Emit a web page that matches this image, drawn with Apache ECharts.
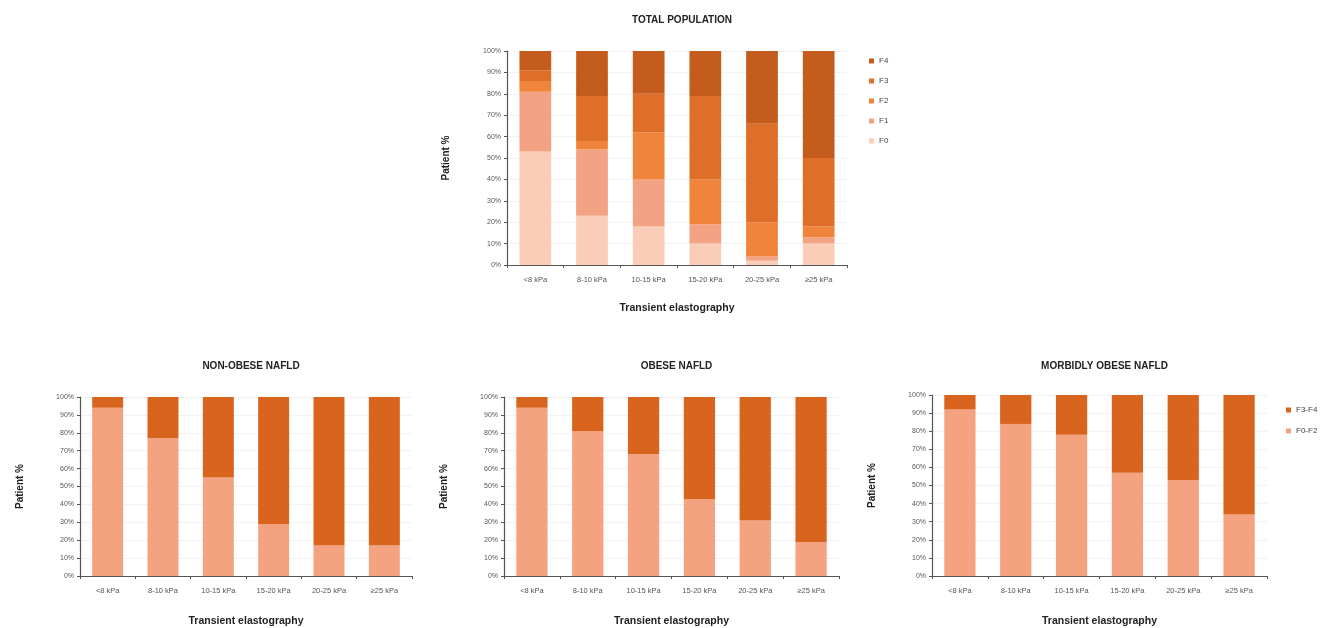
<!DOCTYPE html>
<html>
<head>
<meta charset="utf-8">
<script src="https://cdn.jsdelivr.net/npm/echarts@6/dist/echarts.min.js"></script>
<style>html,body{margin:0;padding:0;background:#fff;}#c{width:1330px;height:628px;}</style>
</head>
<body>
<div id="c"></div>
<script>
// ---- data ----
const categories = ['<8 kPa', '8-10 kPa', '10-15 kPa', '15-20 kPa', '20-25 kPa', '\u226525 kPa'];
const yTicks = [0, 10, 20, 30, 40, 50, 60, 70, 80, 90, 100];

// Total population: fibrosis stage shares (%)
const totalF0 = [53, 23, 18, 10, 2, 10];
const totalF1 = [28, 31, 22, 9, 2, 3];
const totalF2 = [5, 4, 22, 21, 16, 5];
const totalF3 = [5, 21, 18, 39, 46, 32];
const totalF4 = [9, 21, 20, 21, 34, 50];

// Subgroups: F0-F2 share (%) and F3-F4 share (%)
const nonObeseF02 = [94, 77, 55, 29, 17, 17];
const nonObeseF34 = [6, 23, 45, 71, 83, 83];
const obeseF02 = [94, 81, 68, 43, 31, 19];
const obeseF34 = [6, 19, 32, 57, 69, 81];
const morbidF02 = [92, 84, 78, 57, 53, 34];
const morbidF34 = [8, 16, 22, 43, 47, 66];

const titles = ['TOTAL POPULATION', 'NON-OBESE NAFLD', 'OBESE NAFLD', 'MORBIDLY OBESE NAFLD'];

// ---- styling ----
const FONT = '"Liberation Sans", Arial, sans-serif';
const C = {F0: '#F9CDB8', F1: '#F3A284', F2: '#F0843A', F3: '#DF6E28', F4: '#C35C1C', low: '#F4A27F', high: '#D8641E'};

const grids = [
  {left: 507, width: 340, top: 51, height: 214},
  {left: 80, width: 332, top: 397, height: 182},
  {left: 504, width: 335, top: 397, height: 181},
  {left: 932, width: 335, top: 395, height: 183}
];

const xAxis = grids.map((g, i) => ({
  type: 'category', gridIndex: i, data: categories,
  name: 'Transient elastography', nameLocation: 'middle', nameGap: i === 0 ? 38 : 40,
  nameTextStyle: {fontFamily: FONT, fontSize: 10.5, fontWeight: 'bold', color: '#222'},
  axisLine: {lineStyle: {color: '#555', width: 1.2}},
  axisTick: {show: true, alignWithLabel: false, lineStyle: {color: '#555'}, length: 3},
  axisLabel: {fontFamily: FONT, fontSize: 7.5, color: '#555', margin: 11, interval: 0}
}));
const yAxis = grids.map((g, i) => ({
  type: 'value', gridIndex: i, min: 0, max: 100, interval: 10,
  name: 'Patient %', nameLocation: 'middle', nameGap: i === 0 ? 56 : 55,
  nameTextStyle: {fontFamily: FONT, fontSize: 10, fontWeight: 'bold', color: '#222'},
  axisLine: {show: true, lineStyle: {color: '#555', width: 1.2}},
  axisTick: {show: true, lineStyle: {color: '#555'}, length: 3},
  axisLabel: {fontFamily: FONT, fontSize: 7, color: '#555', margin: 6,
    formatter: v => yTicks.includes(v) ? v + '%' : ''},
  splitLine: {show: true, lineStyle: {color: '#f2f2f2'}}
}));

const barW = '56%';
function bar(name, data, idx, stack, color) {
  return {type: 'bar', name, data, xAxisIndex: idx, yAxisIndex: idx, stack, barWidth: barW,
    itemStyle: {color}, emphasis: {disabled: true}};
}

const series = [
  bar('F0', totalF0, 0, 't', C.F0),
  bar('F1', totalF1, 0, 't', C.F1),
  bar('F2', totalF2, 0, 't', C.F2),
  bar('F3', totalF3, 0, 't', C.F3),
  bar('F4', totalF4, 0, 't', C.F4),
  bar('F0-F2', nonObeseF02, 1, 'a', C.low),
  bar('F3-F4', nonObeseF34, 1, 'a', C.high),
  bar('F0-F2', obeseF02, 2, 'b', C.low),
  bar('F3-F4', obeseF34, 2, 'b', C.high),
  bar('F0-F2', morbidF02, 3, 'c', C.low),
  bar('F3-F4', morbidF34, 3, 'c', C.high)
];

const titleStyle = {fontFamily: FONT, fontSize: 10, fontWeight: 'bold', color: '#222'};
const title = titles.map((t, i) => ({
  text: t, textStyle: titleStyle, textAlign: 'center',
  left: grids[i].left + grids[i].width / 2,
  top: i === 0 ? 10 : 356
}));

const legendText = {fontFamily: FONT, fontSize: 8, color: '#444'};
const option = {
  animation: false,
  title,
  grid: grids.map(g => Object.assign({containLabel: false}, g)),
  xAxis, yAxis, series,
  legend: [
    {data: ['F4', 'F3', 'F2', 'F1', 'F0'], orient: 'vertical', left: 864, top: 52,
      itemWidth: 5, itemHeight: 5, itemGap: 12, textStyle: legendText, icon: 'rect'},
    {data: ['F3-F4', 'F0-F2'], orient: 'vertical', left: 1281, top: 401,
      itemWidth: 5, itemHeight: 5, itemGap: 13, textStyle: legendText, icon: 'rect'}
  ]
};
const chart = echarts.init(document.getElementById('c'), null, {renderer: 'canvas'});
chart.setOption(option);
</script>
</body>
</html>
